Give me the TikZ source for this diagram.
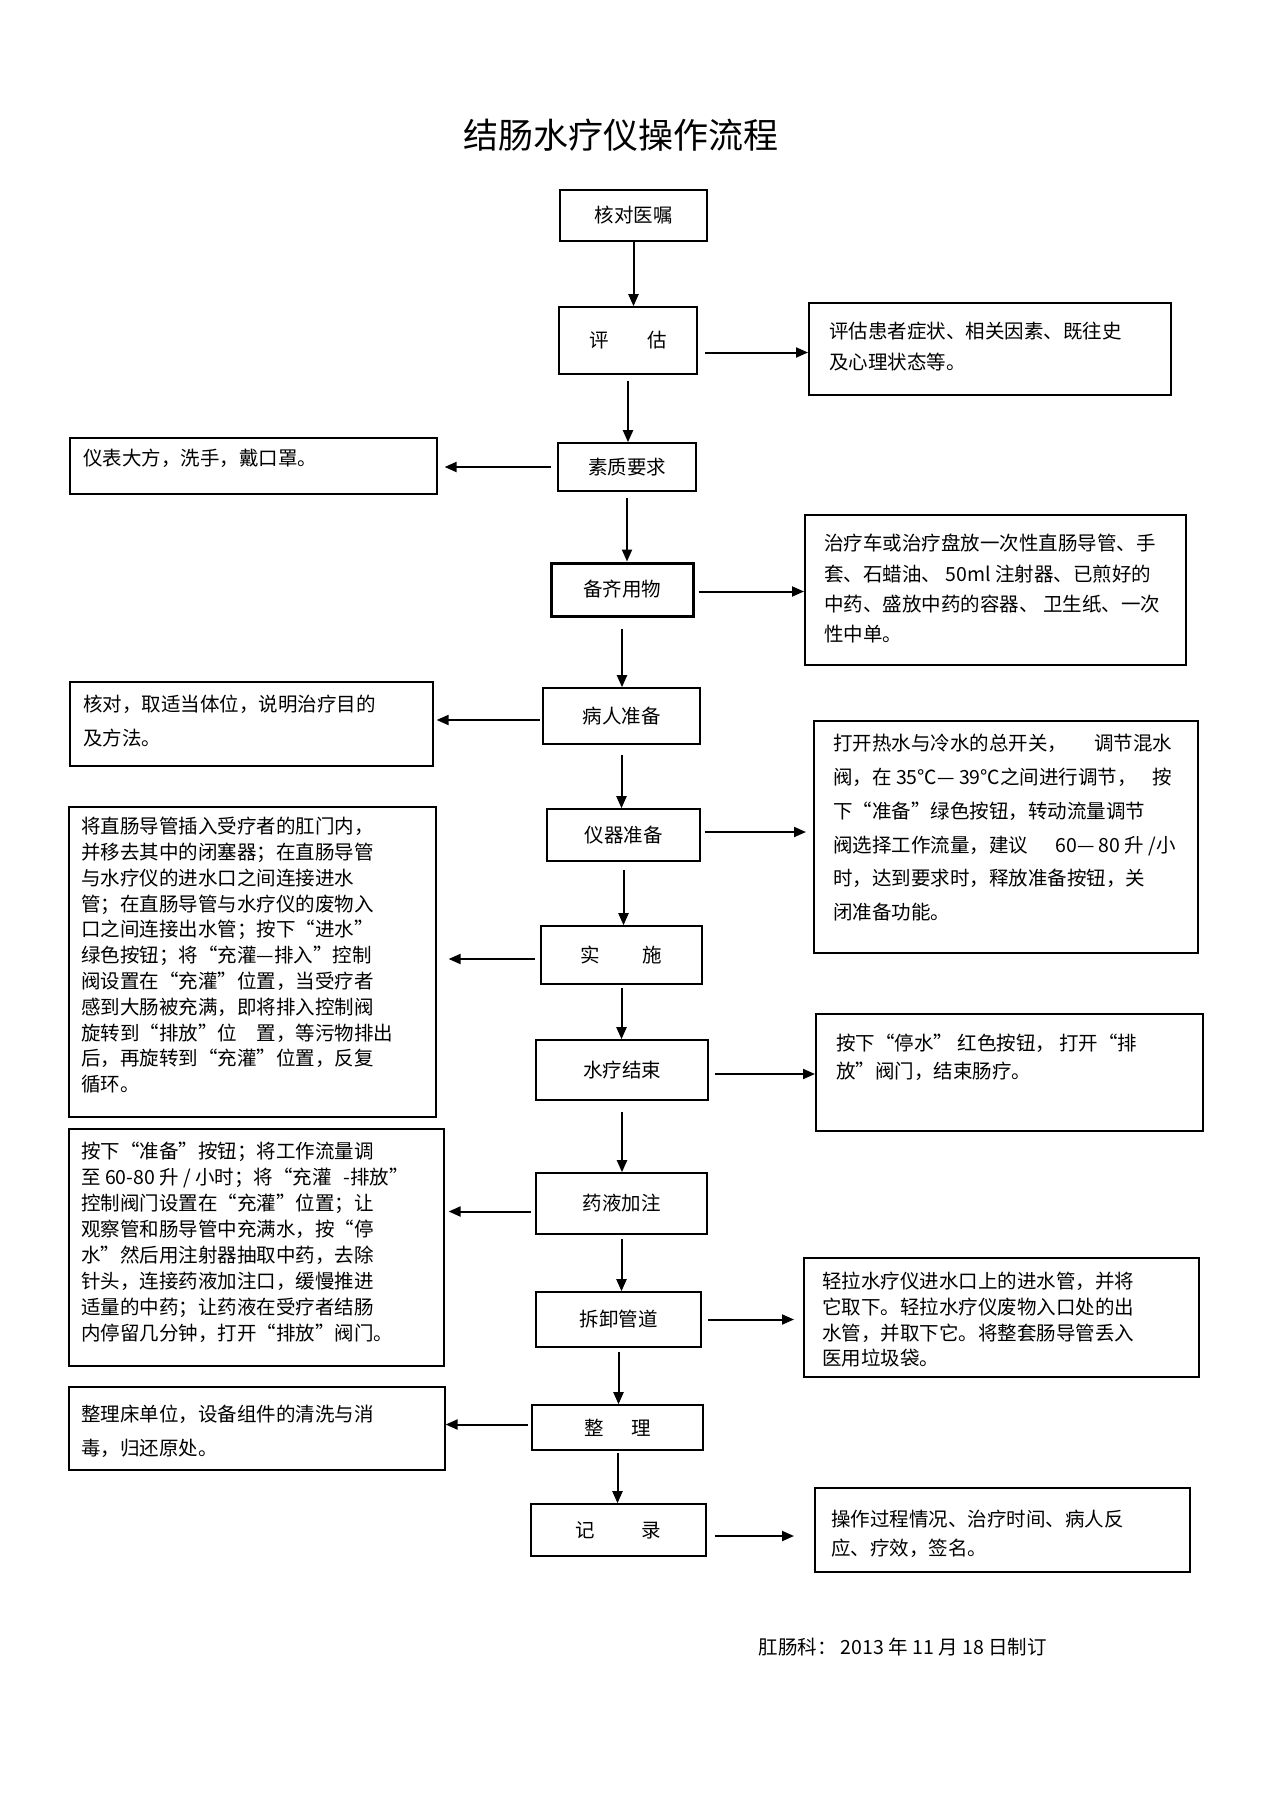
\documentclass[tikz,border=0pt]{standalone}
\usepackage{fontspec}
\setmainfont{Noto Sans CJK SC}
\usetikzlibrary{positioning,arrows.meta}

\begin{document}
\begin{tikzpicture}[
  x=1pt, y=-1pt,
  stepbox/.style={rectangle, draw=black, line width=1.6pt, inner sep=0pt, font=\fontsize{19.5}{24}\selectfont},
  notebox/.style={rectangle, draw=black, line width=1.6pt, anchor=north west, inner sep=0pt},
  notetext/.style={anchor=north west, inner sep=0pt, align=left, font=\fontsize{19.5}{#1}\selectfont},
  arrow/.style={line width=2pt, -{Triangle[length=12pt,width=10pt]}}
]
\useasboundingbox (0,0) rectangle (1274,1804);

%Title
\node[font=\fontsize{35}{40}\selectfont] (title) at (621,135) {结肠水疗仪操作流程};

%Steps
\node[stepbox, minimum width=147pt, minimum height=51pt] (b1) at (633.5,215.5) {核对医嘱};
\node[stepbox, minimum width=138pt, minimum height=67pt] (b2) at (628,340.5) {评\hspace{2em}估};
\node[stepbox, minimum width=138pt, minimum height=48pt] (b3) at (627,467) {素质要求};
\node[stepbox, line width=3pt, minimum width=142pt, minimum height=53pt] (b4) at (622,589.5) {备齐用物};
\node[stepbox, minimum width=157pt, minimum height=56pt] (b5) at (621.5,716) {病人准备};
\node[stepbox, minimum width=153pt, minimum height=52pt] (b6) at (623.5,835) {仪器准备};
\node[stepbox, minimum width=161pt, minimum height=58pt] (b7) at (621.5,955) {实\hspace{2.2em}施};
\node[stepbox, minimum width=172pt, minimum height=60pt] (b8) at (622,1070) {水疗结束};
\node[stepbox, minimum width=171pt, minimum height=61pt] (b9) at (621.5,1203.5) {药液加注};
\node[stepbox, minimum width=165pt, minimum height=55pt] (b10) at (618.5,1319.5) {拆卸管道};
\node[stepbox, minimum width=171pt, minimum height=45pt] (b11) at (617.5,1427.5) {整\hspace{1.4em}理};
\node[stepbox, minimum width=175pt, minimum height=52pt] (b12) at (618.5,1530) {记\hspace{2.4em}录};

%Notes right
\node[notebox, minimum width=362pt, minimum height=92pt] (r1) at (808,302) {};
\node[notetext=31] (r1t) at (829,322) {评估患者症状、相关因素、既往史\\及心理状态等。};
\node[notebox, minimum width=381pt, minimum height=150pt] (r2) at (804,514) {};
\node[notetext=30.3] (r2t) at (824,534) {治疗车或治疗盘放一次性直肠导管、手\\套、石蜡油、 50ml 注射器、已煎好的\\中药、盛放中药的容器、 卫生纸、一次\\性中单。};
\node[notebox, minimum width=384pt, minimum height=232pt] (r3) at (813,720) {};
\node[notetext=33.8] (r3t) at (833,734) {打开热水与冷水的总开关，\hspace{1.4em}调节混水\\阀，在 35℃— 39℃之间进行调节，\hspace{0.8em}按\\下“准备”绿色按钮，转动流量调节\\阀选择工作流量，建议\hspace{1.4em}60— 80 升 /小\\时，达到要求时，释放准备按钮，关\\闭准备功能。};
\node[notebox, minimum width=387pt, minimum height=117pt] (r4) at (815,1013) {};
\node[notetext=28] (r4t) at (836,1034) {按下“停水” 红色按钮， 打开“排\\放”阀门，结束肠疗。};
\node[notebox, minimum width=395pt, minimum height=119pt] (r5) at (803,1257) {};
\node[notetext=25.7] (r5t) at (822,1272) {轻拉水疗仪进水口上的进水管，并将\\它取下。轻拉水疗仪废物入口处的出\\水管，并取下它。将整套肠导管丢入\\医用垃圾袋。};
\node[notebox, minimum width=375pt, minimum height=84pt] (r6) at (814,1487) {};
\node[notetext=29] (r6t) at (831,1510) {操作过程情况、治疗时间、病人反\\应、疗效，签名。};

%Notes left
\node[notebox, minimum width=367pt, minimum height=56pt] (l1) at (69,437) {};
\node[notetext=30] (l1t) at (83,449) {仪表大方，洗手，戴口罩。};
\node[notebox, minimum width=363pt, minimum height=84pt] (l2) at (69,681) {};
\node[notetext=34] (l2t) at (83,695) {核对，取适当体位，说明治疗目的\\及方法。};
\node[notebox, minimum width=367pt, minimum height=310pt] (l3) at (68,806) {};
\node[notetext=25.8] (l3t) at (81,817) {将直肠导管插入受疗者的肛门内，\\并移去其中的闭塞器；在直肠导管\\与水疗仪的进水口之间连接进水\\管；在直肠导管与水疗仪的废物入\\口之间连接出水管；按下“进水”\\绿色按钮；将“充灌—排入”控制\\阀设置在“充灌”位置，当受疗者\\感到大肠被充满，即将排入控制阀\\旋转到“排放”位\hspace{1em}置，等污物排出\\后，再旋转到“充灌”位置，反复\\循环。};
\node[notebox, minimum width=375pt, minimum height=237pt] (l4) at (68,1128) {};
\node[notetext=26] (l4t) at (81,1142) {按下“准备”按钮；将工作流量调\\至 60-80 升 / 小时；将“充灌\hspace{0.6em}-排放”\\控制阀门设置在“充灌”位置；让\\观察管和肠导管中充满水，按“停\\水”然后用注射器抽取中药，去除\\针头，连接药液加注口，缓慢推进\\适量的中药；让药液在受疗者结肠\\内停留几分钟，打开“排放”阀门。};
\node[notebox, minimum width=376pt, minimum height=83pt] (l5) at (68,1386) {};
\node[notetext=34] (l5t) at (81,1405) {整理床单位，设备组件的清洗与消\\毒，归还原处。};

%Footer
\node[font=\fontsize{19.5}{24}\selectfont, anchor=west] (sign) at (755,1647) {肛肠科： 2013 年 11 月 18 日制订};

%Arrows down
\foreach \a/\b/\g in {b1/b2/0pt, b2/b3/6pt, b3/b4/6pt, b4/b5/11pt, b5/b6/10pt, b6/b7/8pt, b7/b8/3pt, b8/b9/11pt, b9/b10/4pt, b10/b11/4pt, b11/b12/2pt}
  \draw[arrow, shorten <=\g] (\a.south) -- (\a.south |- \b.north);

%Arrows out
\draw[arrow, shorten <=7pt] ([yshift=-12pt]b2.east) -- ([yshift=-12pt]b2.east -| r1.west);
\draw[arrow, shorten <=6pt, shorten >=7pt] (b3.west) -- (b3.west -| l1.east);
\draw[arrow, shorten <=4pt] ([yshift=-2pt]b4.east) -- ([yshift=-2pt]b4.east -| r2.west);
\draw[arrow, shorten <=2pt, shorten >=3pt] ([yshift=-4pt]b5.west) -- ([yshift=-4pt]b5.west -| l2.east);
\draw[arrow, shorten <=4pt, shorten >=7pt] ([yshift=3pt]b6.east) -- ([yshift=3pt]b6.east -| r3.west);
\draw[arrow, shorten <=5pt, shorten >=12pt] ([yshift=-4pt]b7.west) -- ([yshift=-4pt]b7.west -| l3.east);
\draw[arrow, shorten <=6pt] ([yshift=-4pt]b8.east) -- ([yshift=-4pt]b8.east -| r4.west);
\draw[arrow, shorten <=4pt, shorten >=4pt] ([yshift=-8pt]b9.west) -- ([yshift=-8pt]b9.west -| l4.east);
\draw[arrow, shorten <=6pt, shorten >=9pt] (b10.east) -- (b10.east -| r5.west);
\draw[arrow, shorten <=3pt] ([yshift=3pt]b11.west) -- ([yshift=3pt]b11.west -| l5.east);
\draw[arrow, shorten <=8pt, shorten >=20pt] ([yshift=-6pt]b12.east) -- ([yshift=-6pt]b12.east -| r6.west);

\end{tikzpicture}
\end{document}
